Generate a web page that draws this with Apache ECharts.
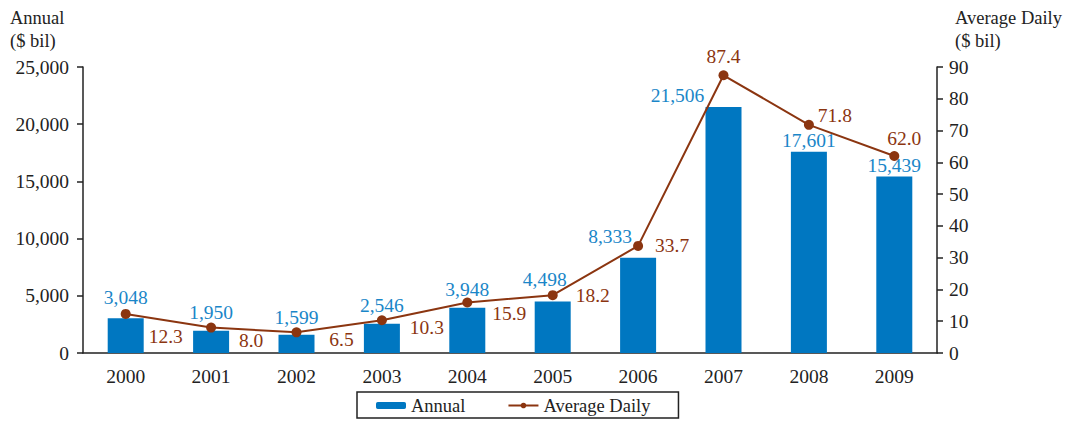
<!DOCTYPE html>
<html>
<head>
<meta charset="utf-8">
<script src="https://cdn.jsdelivr.net/npm/echarts@6/dist/echarts.min.js"></script>
<style>
html, body { margin: 0; padding: 0; background: #fff; }
#chart { width: 1066px; height: 421px; }
</style>
</head>
<body>
<div id="chart"></div>
<script>
// 数据
var years = ['2000', '2001', '2002', '2003', '2004', '2005', '2006', '2007', '2008', '2009'];
var annual = [3048, 1950, 1599, 2546, 3948, 4498, 8333, 21506, 17601, 15439];
var averageDaily = [12.3, 8.0, 6.5, 10.3, 15.9, 18.2, 33.7, 87.4, 71.8, 62.0];
var leftTicks = [0, 5000, 10000, 15000, 20000, 25000];
var rightTicks = [0, 10, 20, 30, 40, 50, 60, 70, 80, 90];

function drawChart(divId) {
    var myChart = echarts.init(document.getElementById(divId), null, { renderer: 'svg' });
    var font = "'Liberation Serif', 'DejaVu Serif', serif";
    var blue = '#0077c1';
    var blueText = '#1a86c8';
    var brown = '#8b3510';

    // 标签偏移 (相对默认位置)
    var barOffsets = [[0, -10], [0, -7], [0, -6], [0, -7], [0, -7], [-8, -11], [-28, -10], [-46, 0], [0, 0], [0, 0]];
    // 折线标签: 以点为中心的偏移
    var lineOffsets = [[40, 23], [40, 13], [45, 7], [45, 7], [42, 11], [40, 0], [34, 0], [0, -19], [26, -9], [10, -17]];

    var barData = annual.map(function (v, i) {
        return { value: v, label: { offset: barOffsets[i] } };
    });
    var lineData = averageDaily.map(function (v, i) {
        return { value: v, label: { offset: lineOffsets[i] } };
    });

    var option = {
        animation: false,
        textStyle: { fontFamily: font },
        grid: { left: 83, right: 129, top: 67, bottom: 68 },
        legend: {
            bottom: 3,
            left: 357,
            itemWidth: 30,
            itemHeight: 7,
            itemGap: 42,
            padding: [4, 28, 3, 19],
            borderColor: '#222',
            borderWidth: 1.5,
            textStyle: { fontFamily: font, fontSize: 18.5, color: '#222' },
            data: ['Annual', 'Average Daily']
        },
        graphic: [
            { type: 'text', left: 10, top: 6, style: { text: 'Annual\n($ bil)', fontFamily: font, fontSize: 18.5, fill: '#222', lineHeight: 23 } },
            { type: 'text', left: 955, top: 6, style: { text: 'Average Daily\n($ bil)', fontFamily: font, fontSize: 18.5, fill: '#222', lineHeight: 23 } }
        ],
        xAxis: {
            type: 'category',
            data: years,
            axisLine: { lineStyle: { color: '#222', width: 1.5 } },
            axisTick: { show: false },
            axisLabel: { color: '#222', fontSize: 19.5, margin: 13, fontFamily: font }
        },
        yAxis: [{
            type: 'value',
            min: leftTicks[0],
            max: leftTicks[leftTicks.length - 1],
            interval: 5000,
            splitLine: { show: false },
            axisLine: { show: true, lineStyle: { color: '#222', width: 1.5 } },
            axisTick: { show: true, length: 6, lineStyle: { color: '#222', width: 1.5 } },
            axisLabel: {
                color: '#222', fontSize: 19.5, margin: 14, fontFamily: font,
                formatter: function (v) { return v.toLocaleString('en-US'); }
            }
        }, {
            type: 'value',
            min: rightTicks[0],
            max: rightTicks[rightTicks.length - 1],
            interval: 10,
            splitLine: { show: false },
            axisLine: { show: true, lineStyle: { color: '#222', width: 1.5 } },
            axisTick: { show: true, length: 6, lineStyle: { color: '#222', width: 1.5 } },
            axisLabel: { color: '#222', fontSize: 19.5, margin: 12, fontFamily: font }
        }],
        series: [{
            name: 'Annual',
            type: 'bar',
            barWidth: 36,
            data: barData,
            itemStyle: { color: blue },
            label: {
                show: true,
                position: 'top',
                distance: 1,
                color: blueText,
                fontSize: 19.5,
                fontFamily: font,
                formatter: function (p) { return p.value.toLocaleString('en-US'); }
            }
        }, {
            name: 'Average Daily',
            type: 'line',
            yAxisIndex: 1,
            data: lineData,
            symbol: 'circle',
            symbolSize: 10,
            lineStyle: { color: brown, width: 2 },
            itemStyle: { color: brown },
            label: {
                show: true,
                position: 'inside',
                color: brown,
                fontSize: 19.5,
                fontFamily: font,
                formatter: function (p) { return p.value.toFixed(1); }
            }
        }]
    };
    myChart.clear();
    myChart.setOption(option);
    return myChart;
}

var chart = drawChart('chart');
</script>
</body>
</html>
